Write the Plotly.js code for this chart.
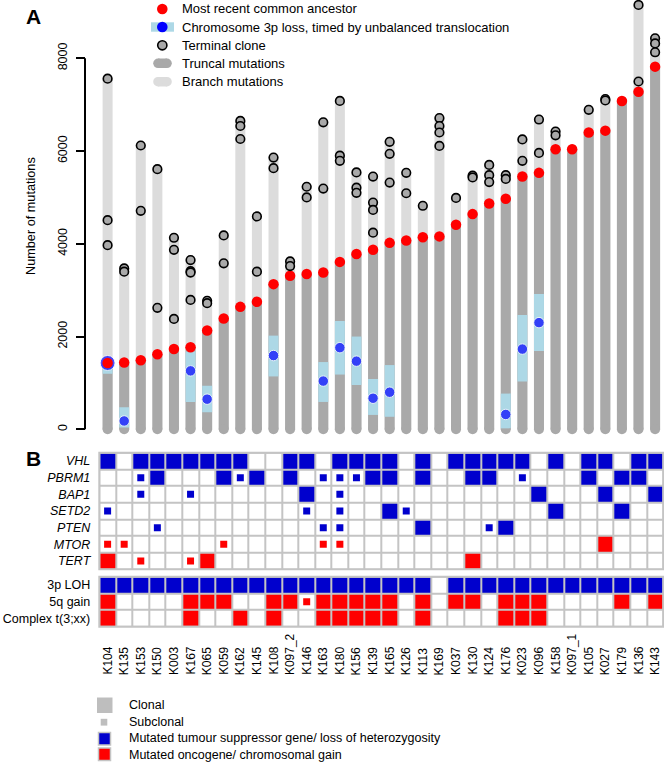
<!DOCTYPE html>
<html><head><meta charset="utf-8">
<script src="https://cdn.plot.ly/plotly-3.0.1.min.js"></script>
<style>html,body{margin:0;padding:0;background:#fff}#chart{width:664px;height:762px}</style>
</head><body><div id="chart"></div>
<script>
// ---------------- DATA ----------------
const samples = ['K104','K135','K153','K150','K003','K167','K065','K059','K162','K145','K108','K097_2','K146','K163','K180','K156','K139','K165','K126','K113','K169','K037','K130','K124','K176','K023','K096','K158','K097_1','K105','K027','K179','K136','K143'];
// Most recent common ancestor (number of truncal mutations)
const mrca = [1430,1440,1490,1620,1730,1770,2130,2390,2640,2750,3130,3310,3350,3380,3610,3780,3870,4020,4070,4140,4160,4410,4640,4870,4970,5450,5530,6040,6040,6400,6440,7080,7280,7820];
// Terminal clones
const terminals = [
  [7560,4510,3970],[3470,3400],[6120,4710],[5610,2620],[4130,3870,2380],[3650,3410,3380,2790],
  [2770,2720],[4180,3580],[6650,6540,6260],[4590,3400],[5860,5630],[3620,3520],[5230,5000],
  [6620,5190],[7080,5900,5790],[5540,5210,5100],[5450,4890,4730,4240],[6200,5940,5320],
  [5530,5090],[4820],[6710,6540,6400,6110],[4990],[5470,5430],[5700,5480,5330],[5480,5400],
  [6250,5790],[6680,5960],[6420,6340],[],[6890],[7120,7090],[],[9150,7500],[8430,8320,8130]
];
// Chromosome 3p loss timing (dot, interval low, interval high); null = not timed
const loss3pDot  = [1430,180,null,null,null,1260,650,null,null,null,1590,null,null,1040,1760,1470,670,800,null,null,null,null,null,null,320,1730,2300,null,null,null,null,null,null,null];
const loss3pLow  = [1200,40,null,null,null,590,370,null,null,null,1140,null,null,590,1180,955,310,270,null,null,null,null,null,null,20,1030,1690,null,null,null,null,null,null,null];
const loss3pHigh = [1430,475,null,null,null,1675,940,null,null,null,2020,null,null,1450,2335,2000,1085,1385,null,null,null,null,null,null,770,2465,2920,null,null,null,null,null,null,null];

// Panel B: 0 = none, 1 = subclonal, 2 = clonal
const genes = ['VHL','PBRM1','BAP1','SETD2','PTEN','MTOR','TERT'];
const geneKind = ['tsg','tsg','tsg','tsg','tsg','onc','onc'];
const VHL   = [2,0,2,2,2,2,2,2,2,0,0,2,2,0,2,2,2,2,0,2,0,2,2,2,2,2,0,2,0,2,2,0,2,2];
const PBRM1 = [0,0,1,2,0,0,0,2,1,2,0,2,0,1,1,1,2,2,0,2,0,0,2,2,0,1,0,0,0,2,0,2,2,0];
const BAP1  = [0,0,1,0,0,1,0,0,0,0,0,0,2,0,1,0,0,0,0,0,0,0,0,0,0,0,2,0,0,0,2,0,0,2];
const SETD2 = [1,0,0,0,0,0,0,0,0,0,0,0,1,0,1,0,0,2,1,0,0,0,0,0,0,0,0,2,0,0,0,2,0,0];
const PTEN  = [0,0,0,1,0,0,0,0,0,0,0,0,0,1,1,0,0,0,0,2,0,0,0,1,2,0,0,0,0,0,0,0,0,0];
const MTOR  = [1,1,0,0,0,0,0,1,0,0,0,0,0,1,1,0,0,0,0,0,0,0,0,0,0,0,0,0,0,0,2,0,0,0];
const TERT  = [2,0,1,0,0,1,2,0,0,0,0,0,0,0,0,0,0,0,0,0,0,0,2,0,0,0,0,0,0,0,0,0,0,0];
const geneRows = [VHL,PBRM1,BAP1,SETD2,PTEN,MTOR,TERT];

const cnvs = ['3p LOH','5q gain','Complex t(3;xx)'];
const cnvKind = ['tsg','onc','onc'];
const LOH3p    = [2,2,2,2,2,2,2,2,2,2,2,2,2,2,2,2,2,2,2,2,0,2,2,2,2,2,2,2,2,2,2,2,2,2];
const gain5q   = [2,0,0,0,0,2,2,2,0,0,2,2,1,2,2,2,2,2,0,2,0,2,2,0,2,2,2,0,0,0,0,2,0,2];
const complexT = [2,0,0,0,0,2,0,0,2,0,2,0,0,2,2,2,2,2,0,2,0,0,0,0,2,2,2,0,0,0,0,0,0,0];
const cnvRows = [LOH3p,gain5q,complexT];

const yTicks = [0,2000,4000,6000,8000];

// ---------------- STYLE / LAYOUT ----------------
const W=664,H=762;
const px=x=>x/W, py=y=>1-y/H;
const FONT='"Liberation Sans", Arial, sans-serif';
const C={dark:'#a9a9a9',light:'#dcdcdc',lblue:'#add8e6',blue:'#0000ff',red:'#ff0000',
         tsg:'#0000cd',onc:'#ff0000',grid:'#c4c4c4'};
const BARW=10;

const traces=[];
// branch (light) bars
{ const x=[],y=[],cx=[],cy=[];
  samples.forEach((s,i)=>{const top=Math.max(mrca[i],...terminals[i]); x.push(s,s,null); y.push(0,top,null); cx.push(s); cy.push(top);});
  traces.push({type:'scatter',mode:'lines',x,y,line:{color:C.light,width:BARW},hoverinfo:'skip',cliponaxis:false});
  traces.push({type:'scatter',mode:'markers',x:cx,y:cy,marker:{color:C.light,size:BARW},hoverinfo:'skip',cliponaxis:false});
}
// truncal (dark) bars
{ const x=[],y=[],cx=[],cy=[];
  samples.forEach((s,i)=>{x.push(s,s,null); y.push(0,mrca[i],null); cx.push(s); cy.push(0);});
  traces.push({type:'scatter',mode:'lines',x,y,line:{color:C.dark,width:BARW},hoverinfo:'skip',cliponaxis:false});
  traces.push({type:'scatter',mode:'markers',x:cx,y:cy,marker:{color:C.dark,size:BARW},hoverinfo:'skip',cliponaxis:false});
}
// 3p loss intervals
{ const x=[],y=[];
  samples.forEach((s,i)=>{ if(loss3pLow[i]!=null){x.push(s,s,null); y.push(loss3pLow[i],loss3pHigh[i],null);} });
  traces.push({type:'scatter',mode:'lines',x,y,line:{color:C.lblue,width:BARW},hoverinfo:'skip',cliponaxis:false});
}
// 3p loss dots
{ const x=[],y=[],sz=[];
  samples.forEach((s,i)=>{ if(loss3pDot[i]!=null){x.push(s); y.push(loss3pDot[i]); sz.push(loss3pDot[i]===mrca[i]?15:10.5);} });
  traces.push({type:'scatter',mode:'markers',x,y,marker:{color:C.blue,size:sz},hoverinfo:'skip',cliponaxis:false});
}
// MRCA dots
traces.push({type:'scatter',mode:'markers',x:samples,y:mrca,marker:{color:C.red,size:10.5},hoverinfo:'skip',cliponaxis:false});
// terminal clones
{ const x=[],y=[];
  samples.forEach((s,i)=>terminals[i].forEach(v=>{x.push(s); y.push(v);}));
  traces.push({type:'scatter',mode:'markers',x,y,marker:{color:C.dark,size:8.6,line:{color:'#000',width:1.6}},hoverinfo:'skip',cliponaxis:false});
}

// Panel B heatmaps
const cs=[[0,'#ffffff'],[0.25,'#ffffff'],[0.25,C.tsg],[0.75,C.tsg],[0.75,C.onc],[1,C.onc]];
function addGrid(rows,names,kinds,yax){
  const z=rows.map((r,ri)=>r.map(v=>v===2?(kinds[ri]==='tsg'?1:2):0));
  traces.push({type:'heatmap',x:samples,y:names,z,xaxis:'x',yaxis:yax,zmin:0,zmax:2,colorscale:cs,showscale:false,xgap:2,ygap:2,hoverinfo:'skip'});
  const sx=[],sy=[],sc=[];
  rows.forEach((r,ri)=>r.forEach((v,ci)=>{ if(v===1){sx.push(samples[ci]); sy.push(names[ri]); sc.push(kinds[ri]==='tsg'?C.tsg:C.onc);} }));
  if(sx.length) traces.push({type:'scatter',mode:'markers',x:sx,y:sy,xaxis:'x',yaxis:yax,marker:{symbol:'square',size:7,color:sc},hoverinfo:'skip'});
}
addGrid(geneRows,genes,geneKind,'y2');
addGrid(cnvRows,cnvs,cnvKind,'y3');

const xDom=[px(99.3),px(663.4)];
const shapes=[], annotations=[];
// y axis line 0..8000
shapes.push({type:'line',xref:'paper',yref:'y',x0:px(85),x1:px(85),y0:yTicks[0],y1:yTicks[yTicks.length-1],line:{color:'#000',width:2}});
// grid backgrounds and borders
['y2','y3'].forEach(ya=>{
  shapes.push({type:'rect',xref:'x domain',yref:ya+' domain',x0:0,x1:1,y0:0,y1:1,fillcolor:C.grid,line:{width:0},layer:'below'});
  shapes.push({type:'rect',xref:'x domain',yref:ya+' domain',x0:0,x1:1,y0:0,y1:1,line:{color:C.grid,width:2},layer:'above'});
});
// top legend
const lf={family:FONT,size:13,color:'#000'};
function circ(cx,cy,r,fill,line){shapes.push({type:'circle',xref:'paper',yref:'paper',x0:px(cx-r),x1:px(cx+r),y0:py(cy+r),y1:py(cy-r),fillcolor:fill,line:line||{width:0}});}
function rect(x0,y0,x1,y1,fill,line){shapes.push({type:'rect',xref:'paper',yref:'paper',x0:px(x0),x1:px(x1),y0:py(y1),y1:py(y0),fillcolor:fill,line:line||{width:0}});}
function txt(x,y,t,f,extra){annotations.push(Object.assign({xref:'paper',yref:'paper',x:px(x),y:py(y),text:t,showarrow:false,xanchor:'left',yanchor:'middle',font:f},extra||{}));}
circ(162.3,9,5.3,C.red);
rect(151,22.3,174,31.7,C.lblue); circ(162.3,27,5.3,C.blue);
circ(162.3,45.3,4.6,C.dark,{color:'#000',width:1.6});
rect(158,58.5,167,68,C.dark); circ(158,63.3,4.8,C.dark); circ(167,63.3,4.8,C.dark);
rect(158,77,167,86.5,C.light); circ(158,81.7,4.8,C.light); circ(167,81.7,4.8,C.light);
txt(180,9,'Most recent common ancestor',lf);
txt(180,27,'Chromosome 3p loss, timed by unbalanced translocation',lf);
txt(180,45.3,'Terminal clone',lf);
txt(180,63.5,'Truncal mutations',lf);
txt(180,81.7,'Branch mutations',lf);
// panel letters
txt(24,16,'<b>A</b>',{family:FONT,size:21,color:'#000'});
txt(24,458,'<b>B</b>',{family:FONT,size:21,color:'#000'});
// y axis title
txt(31,216,'Number of mutations',{family:FONT,size:12.7,color:'#000'},{xanchor:'center',textangle:-90});
// column labels
samples.forEach(s=>annotations.push({xref:'x',yref:'paper',x:s,y:py(676),text:s,textangle:-90,showarrow:false,xanchor:'center',yanchor:'bottom',font:{family:FONT,size:12,color:'#000'},borderpad:0}));
// bottom legend
const bf={family:FONT,size:12.5,color:'#000'};
rect(97,697.5,112.5,713,'#bebebe');
rect(100.7,718.8,107.3,725.6,'#bebebe');
rect(98.5,732.5,110.5,745,C.tsg,{color:C.grid,width:1.5});
rect(98.5,748,110.5,760.5,C.onc,{color:C.grid,width:1.5});
txt(127,704.5,'Clonal',bf);
txt(127,722,'Subclonal',bf);
txt(127,738,'Mutated tumour suppressor gene/ loss of heterozygosity',bf);
txt(127,754.5,'Mutated oncogene/ chromosomal gain',bf);

const vPerPx=1/0.046375;
const layout={
  width:W,height:H,margin:{l:0,r:0,t:0,b:0},paper_bgcolor:'#fff',plot_bgcolor:'rgba(0,0,0,0)',
  showlegend:false,font:{family:FONT,size:12,color:'#000'},
  xaxis:{domain:xDom,type:'category',categoryarray:samples,range:[-0.5,samples.length-0.5],showticklabels:false,showgrid:false,zeroline:false,showline:false,ticks:'',anchor:'y3',fixedrange:true},
  yaxis:{domain:[py(440),1],range:[-(440-429.3)*vPerPx,429.3*vPerPx],anchor:'free',position:px(85),tickvals:yTicks,ticks:'outside',ticklen:9,tickwidth:2,tickcolor:'#000',tickangle:-90,showgrid:false,zeroline:false,showline:false,tickfont:{family:FONT,size:12.5,color:'#000'},ticklabelstandoff:4},
  yaxis2:{domain:[py(569.3),py(452.7)],type:'category',categoryarray:genes,range:[genes.length-0.5,-0.5],anchor:'x',showgrid:false,zeroline:false,showline:false,ticks:'',tickfont:{family:FONT,size:12.5,color:'#000',style:'italic'},ticklabelstandoff:8},
  yaxis3:{domain:[py(626.7),py(576.7)],type:'category',categoryarray:cnvs,range:[cnvs.length-0.5,-0.5],anchor:'x',showgrid:false,zeroline:false,showline:false,ticks:'',tickfont:{family:FONT,size:12.5,color:'#000'},ticklabelstandoff:8},
  shapes,annotations
};
Plotly.newPlot('chart',traces,layout,{staticPlot:true,displayModeBar:false});
</script></body></html>
